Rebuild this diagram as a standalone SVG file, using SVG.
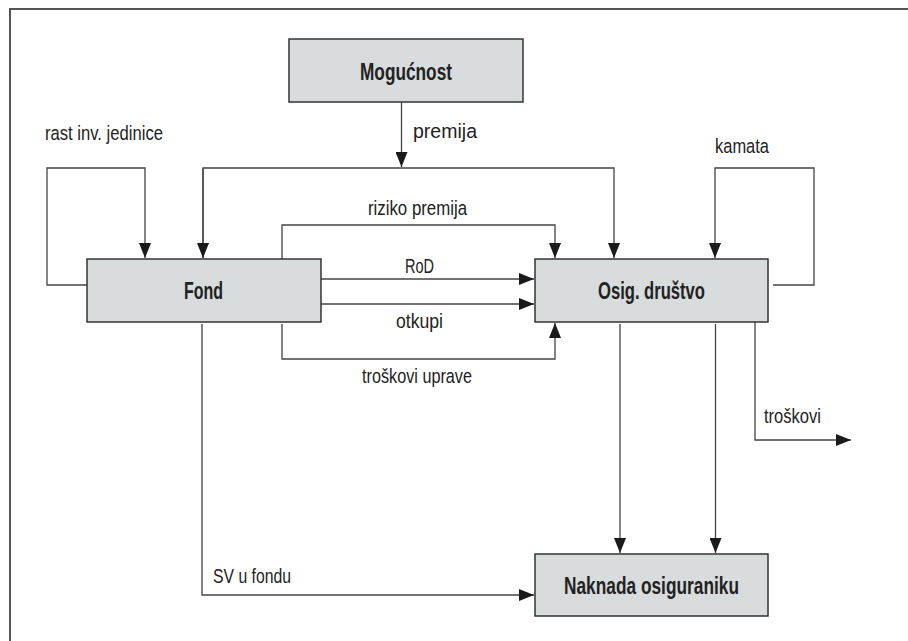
<svg xmlns="http://www.w3.org/2000/svg" width="908" height="641" viewBox="0 0 908 641">
<style>
.box{fill:#d9dcdc;stroke:#333;stroke-width:1.5}
.lbl{font-family:"Liberation Sans",Arial,sans-serif;font-size:20.5px;fill:#222}
.ttl{font-family:"Liberation Sans",Arial,sans-serif;font-size:23px;font-weight:bold;fill:#222}
.c{fill:none;stroke:#444;stroke-width:1.3}
</style>
<defs>
<marker id="ah" viewBox="0 0 15 12" refX="15" refY="6" markerWidth="15" markerHeight="12" markerUnits="userSpaceOnUse" orient="auto">
<path d="M0,0 L15,6 L0,12 Z" fill="#1a1a1a"/>
</marker>
</defs>
<rect width="908" height="641" fill="#fff"/>
<path d="M10,641 V9 H908" fill="none" stroke="#555" stroke-width="2"/>
<g id="connectors">
<path class="c" d="M401.5,102 V167" marker-end="url(#ah)"/>
<path class="c" d="M203,258 V168 H614 V258" marker-end="url(#ah)"/>
<path class="c" d="M203,168 V258" marker-end="url(#ah)"/>
<path class="c" d="M87,285 H47 V168 H145 V258" marker-end="url(#ah)"/>
<path class="c" d="M282,259 V225 H555 V258" marker-end="url(#ah)"/>
<path class="c" d="M321,279 H534" marker-end="url(#ah)"/>
<path class="c" d="M321,304 H534" marker-end="url(#ah)"/>
<path class="c" d="M282,324 V359 H555 V323" marker-end="url(#ah)"/>
<path class="c" d="M773,285 H814 V168 H715 V258" marker-end="url(#ah)"/>
<path class="c" d="M620,324 V553" marker-end="url(#ah)"/>
<path class="c" d="M715.5,324 V553" marker-end="url(#ah)"/>
<path class="c" d="M755,321 V440 H851" marker-end="url(#ah)"/>
<path class="c" d="M202,324 V595 H534" marker-end="url(#ah)"/>
<text class="lbl" x="413" y="138" textLength="64" lengthAdjust="spacingAndGlyphs">premija</text>
<text class="lbl" x="45" y="140" textLength="118" lengthAdjust="spacingAndGlyphs">rast inv. jedinice</text>
<text class="lbl" x="715" y="153" textLength="54" lengthAdjust="spacingAndGlyphs">kamata</text>
<text class="lbl" x="368" y="215" textLength="99" lengthAdjust="spacingAndGlyphs">riziko premija</text>
<text class="lbl" x="405" y="273" textLength="29" lengthAdjust="spacingAndGlyphs">RoD</text>
<text class="lbl" x="396" y="328" textLength="47" lengthAdjust="spacingAndGlyphs">otkupi</text>
<text class="lbl" x="362" y="383" textLength="110" lengthAdjust="spacingAndGlyphs">troškovi uprave</text>
<text class="lbl" x="764" y="423" textLength="57" lengthAdjust="spacingAndGlyphs">troškovi</text>
<text class="lbl" x="213" y="583" textLength="78" lengthAdjust="spacingAndGlyphs">SV u fondu</text>
</g>
<g id="mogucnost">
<rect class="box" x="289" y="39" width="234" height="63"/>
<text class="ttl" x="360" y="80" textLength="92" lengthAdjust="spacingAndGlyphs">Mogućnost</text>
</g>
<g id="fond">
<rect class="box" x="87" y="259" width="234" height="63"/>
<text class="ttl" x="184" y="299" textLength="39" lengthAdjust="spacingAndGlyphs">Fond</text>
</g>
<g id="osig">
<rect class="box" x="535" y="259" width="233" height="63"/>
<text class="ttl" x="598" y="299" textLength="107" lengthAdjust="spacingAndGlyphs">Osig. društvo</text>
</g>
<g id="naknada">
<rect class="box" x="535" y="554" width="233" height="62"/>
<text class="ttl" x="564" y="594" textLength="175" lengthAdjust="spacingAndGlyphs">Naknada osiguraniku</text>
</g>
</svg>
